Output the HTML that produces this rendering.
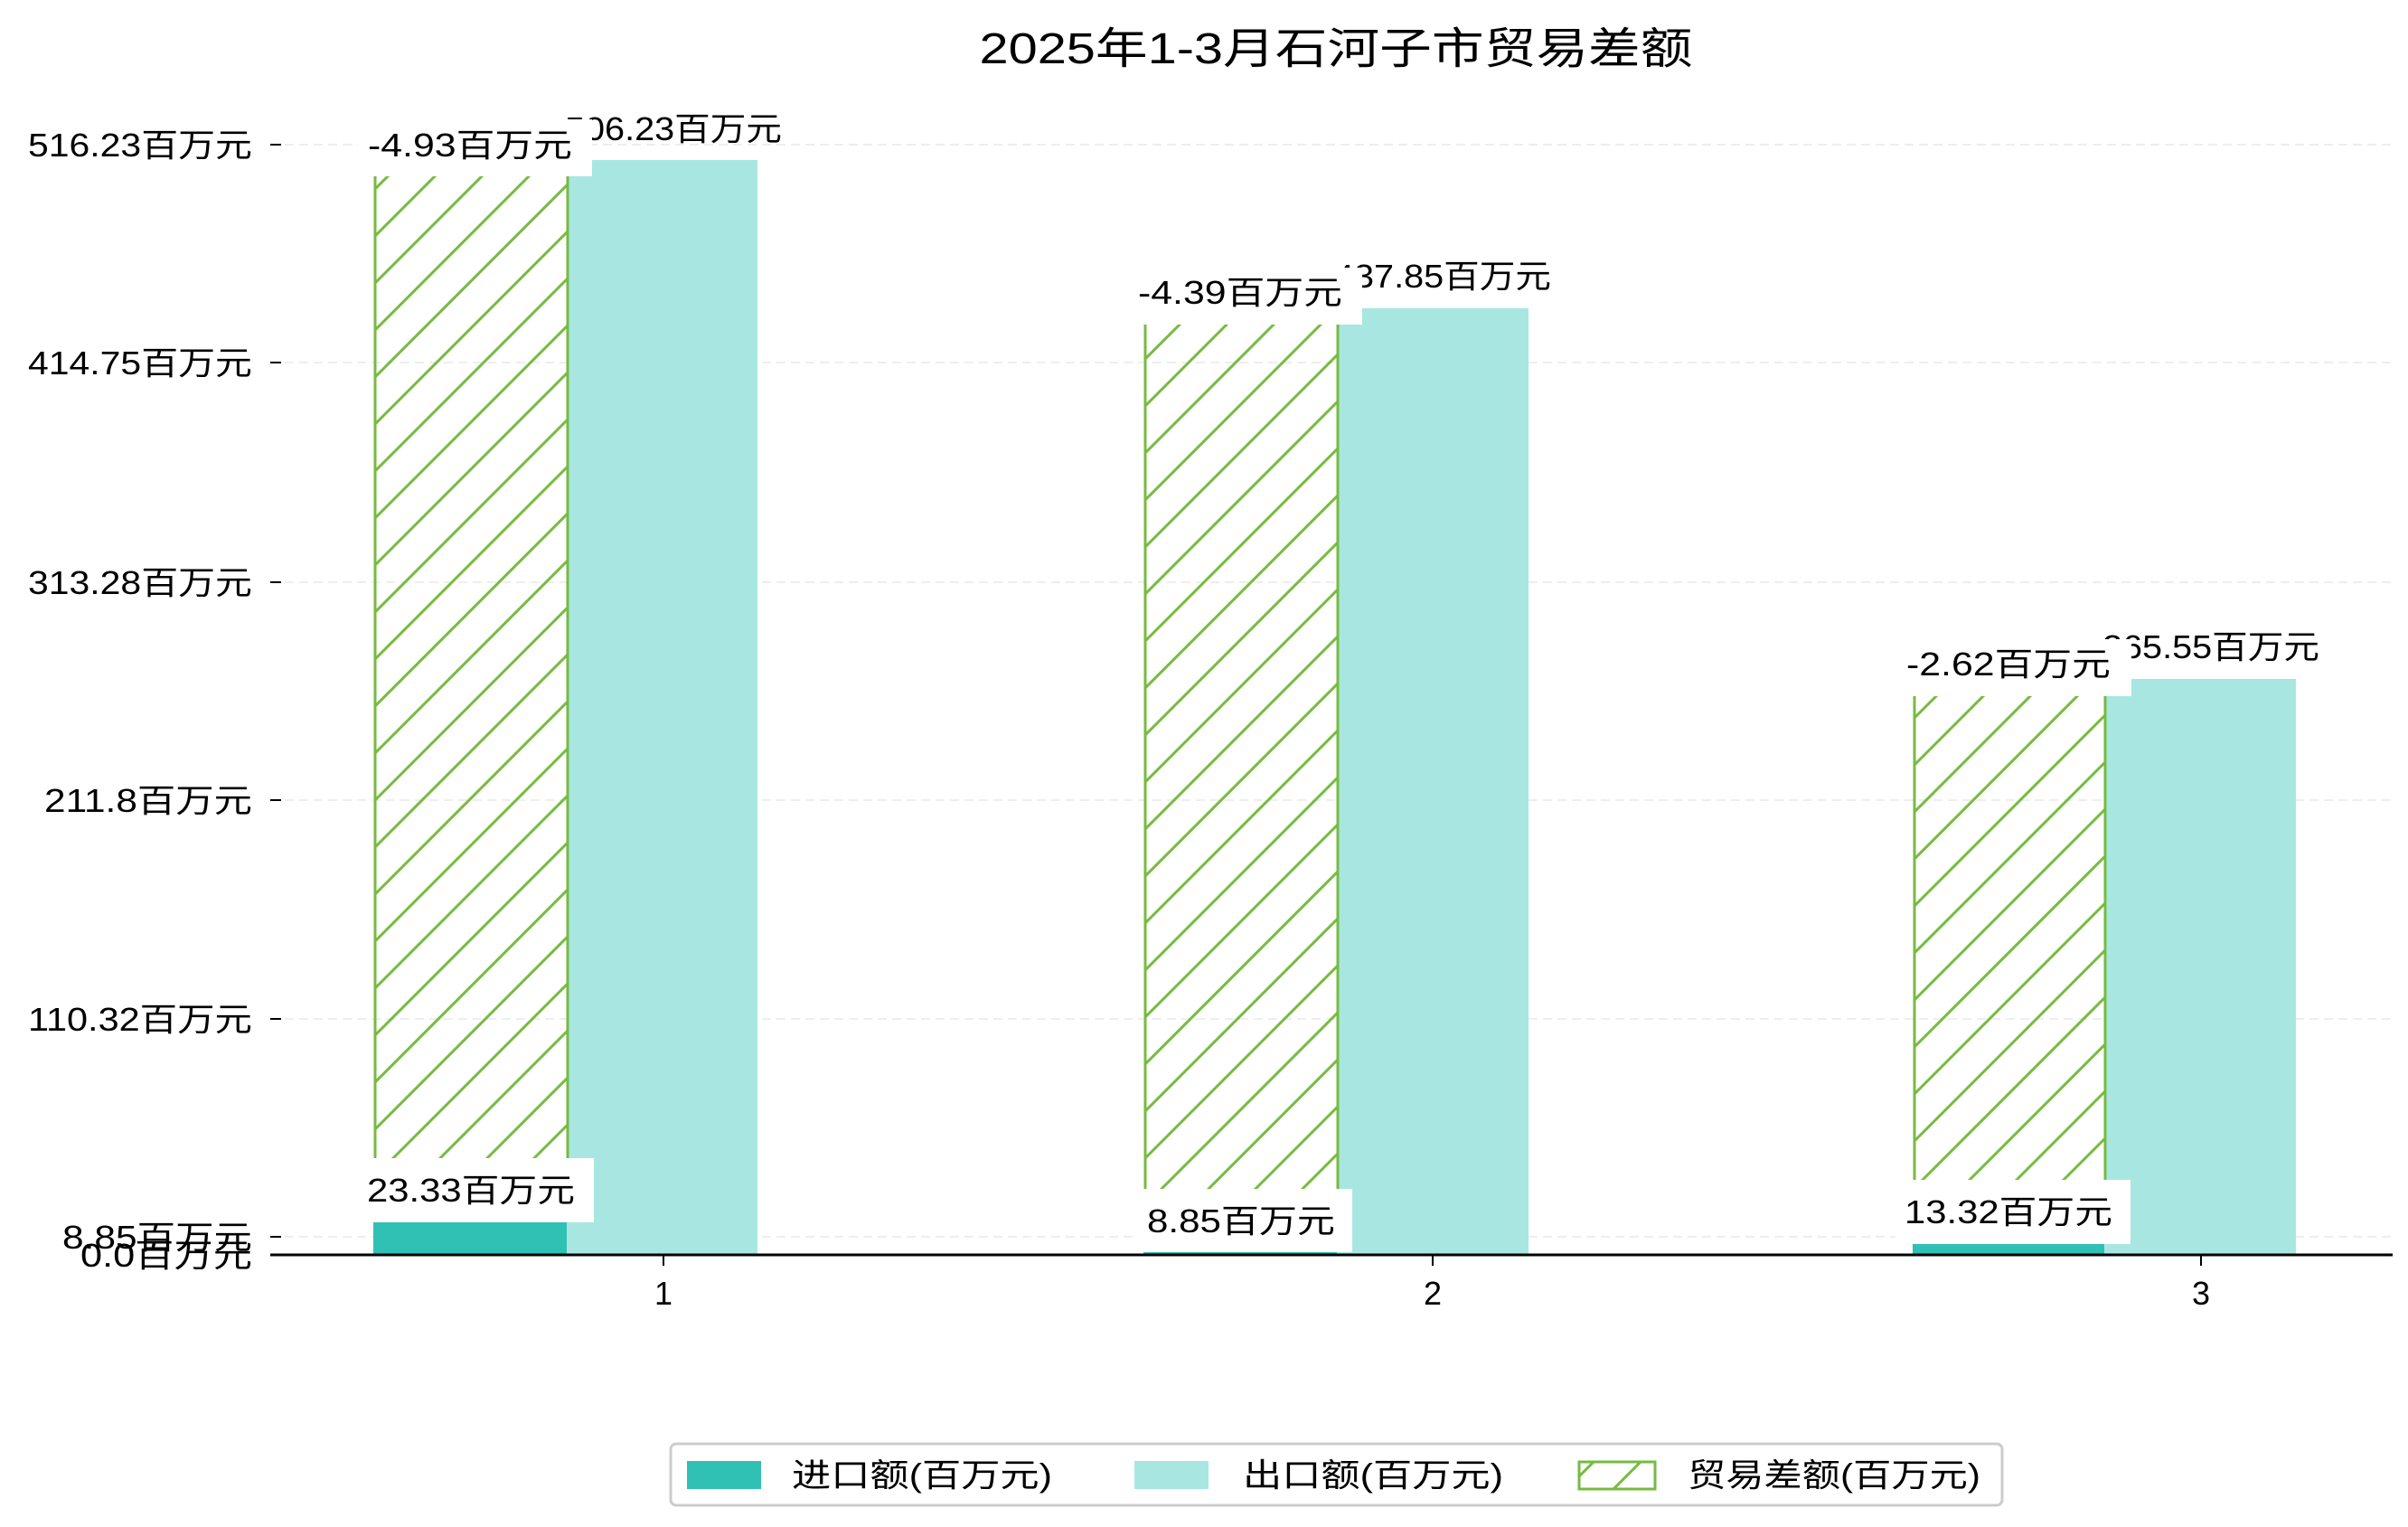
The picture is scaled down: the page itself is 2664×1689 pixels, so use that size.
<!DOCTYPE html>
<html><head><meta charset="utf-8"><style>html,body{margin:0;padding:0;background:#fff}svg{display:block}text{font-family:"Liberation Sans","Noto Sans CJK SC",sans-serif;fill:#000}</style></head>
<body>
<svg width="2664" height="1689" viewBox="0 0 2664 1689" xmlns="http://www.w3.org/2000/svg">
<defs>
<pattern id="h" patternUnits="userSpaceOnUse" width="52" height="52">
<line x1="-2" y1="54" x2="54" y2="-2" stroke="#77bb41" stroke-width="3"/>
<line x1="-28" y1="28" x2="28" y2="-28" stroke="#77bb41" stroke-width="3"/>
<line x1="24" y1="80" x2="80" y2="24" stroke="#77bb41" stroke-width="3"/>
</pattern>
</defs>
<text x="1478" y="70" font-size="48" text-anchor="middle" textLength="789" lengthAdjust="spacingAndGlyphs">2025年1-3月石河子市贸易差额</text>
<g stroke="#eeeeee" stroke-width="2" stroke-dasharray="10,6">
<line x1="299" y1="160" x2="2647" y2="160"/><line x1="299" y1="401" x2="2647" y2="401"/>
<line x1="299" y1="644" x2="2647" y2="644"/><line x1="299" y1="885" x2="2647" y2="885"/>
<line x1="299" y1="1127" x2="2647" y2="1127"/><line x1="299" y1="1368" x2="2647" y2="1368"/>
</g>
<g font-size="36" text-anchor="end">
<text x="279" y="173" textLength="248" lengthAdjust="spacingAndGlyphs">516.23百万元</text>
<text x="279" y="414" textLength="248" lengthAdjust="spacingAndGlyphs">414.75百万元</text>
<text x="279" y="657" textLength="248" lengthAdjust="spacingAndGlyphs">313.28百万元</text>
<text x="279" y="898" textLength="230" lengthAdjust="spacingAndGlyphs">211.8百万元</text>
<text x="279" y="1140" textLength="248" lengthAdjust="spacingAndGlyphs">110.32百万元</text>
<text x="279" y="1381" textLength="210" lengthAdjust="spacingAndGlyphs">8.85百万元</text>
<text x="279" y="1401" textLength="190" lengthAdjust="spacingAndGlyphs">0.0百万元</text>
</g>
<g stroke="#000" stroke-width="2">
<line x1="299" y1="160" x2="311" y2="160"/><line x1="299" y1="401" x2="311" y2="401"/>
<line x1="299" y1="644" x2="311" y2="644"/><line x1="299" y1="885" x2="311" y2="885"/>
<line x1="299" y1="1127" x2="311" y2="1127"/><line x1="299" y1="1368" x2="311" y2="1368"/>
<line x1="734" y1="1388" x2="734" y2="1400"/><line x1="1585" y1="1388" x2="1585" y2="1400"/><line x1="2435" y1="1388" x2="2435" y2="1400"/>
</g>
<rect x="627" y="177" width="211" height="1211" fill="#a8e7e1"/>
<rect x="1479" y="341" width="212" height="1047" fill="#a8e7e1"/>
<rect x="2328" y="751" width="212" height="637" fill="#a8e7e1"/>
<rect x="413" y="1352" width="214" height="36" fill="#30c0b4"/>
<rect x="1265" y="1384" width="214" height="4" fill="#30c0b4"/>
<rect x="2116" y="1376" width="212" height="12" fill="#30c0b4"/>
<g stroke="#77bb41" stroke-width="3">
<rect x="414" y="195" width="213" height="1157" fill="url(#h)" stroke="none"/>
<line x1="415" y1="195" x2="415" y2="1352"/><line x1="628" y1="195" x2="628" y2="1352"/>
<rect x="1266" y="359" width="213" height="1025" fill="url(#h)" stroke="none"/>
<line x1="1267" y1="359" x2="1267" y2="1384"/><line x1="1480" y1="359" x2="1480" y2="1384"/>
<rect x="2117" y="770" width="211" height="606" fill="url(#h)" stroke="none"/>
<line x1="2118" y1="770" x2="2118" y2="1376"/><line x1="2329" y1="770" x2="2329" y2="1376"/>
</g>
<g font-size="36" text-anchor="middle">
<text x="745" y="155" textLength="240" lengthAdjust="spacingAndGlyphs">506.23百万元</text>
<text x="1596" y="318" textLength="240" lengthAdjust="spacingAndGlyphs">437.85百万元</text>
<text x="2446" y="728" textLength="240" lengthAdjust="spacingAndGlyphs">265.55百万元</text>
</g>
<rect x="396" y="132" width="259" height="63" fill="#fff"/>
<rect x="1248" y="296" width="259" height="63" fill="#fff"/>
<rect x="2099" y="707" width="259" height="63" fill="#fff"/>
<g font-size="36" text-anchor="middle">
<text x="520" y="173" textLength="226" lengthAdjust="spacingAndGlyphs">-4.93百万元</text>
<text x="1372" y="336" textLength="226" lengthAdjust="spacingAndGlyphs">-4.39百万元</text>
<text x="2222" y="747" textLength="226" lengthAdjust="spacingAndGlyphs">-2.62百万元</text>
</g>
<rect x="396" y="1281" width="261" height="71" fill="#fff"/>
<rect x="1257" y="1315" width="239" height="70" fill="#fff"/>
<rect x="2097" y="1305" width="260" height="71" fill="#fff"/>
<g font-size="36" text-anchor="middle">
<text x="521" y="1329" textLength="230" lengthAdjust="spacingAndGlyphs">23.33百万元</text>
<text x="1373" y="1363" textLength="208" lengthAdjust="spacingAndGlyphs">8.85百万元</text>
<text x="2222" y="1353" textLength="230" lengthAdjust="spacingAndGlyphs">13.32百万元</text>
</g>
<line x1="299" y1="1388" x2="2647" y2="1388" stroke="#000" stroke-width="3"/>
<g font-size="36" text-anchor="middle">
<text x="734" y="1443">1</text><text x="1585" y="1443">2</text><text x="2435" y="1443">3</text>
</g>
<rect x="742" y="1597" width="1473" height="68" rx="6" fill="#fff" stroke="#cccccc" stroke-width="3"/>
<rect x="760" y="1616" width="82" height="31" fill="#30c0b4"/>
<rect x="1255" y="1616" width="82" height="31" fill="#a8e7e1"/>
<rect x="1747" y="1617" width="84" height="30" fill="url(#h)" stroke="#77bb41" stroke-width="3"/>
<g font-size="36">
<text x="876" y="1644" textLength="288" lengthAdjust="spacingAndGlyphs">进口额(百万元)</text>
<text x="1375" y="1644" textLength="288" lengthAdjust="spacingAndGlyphs">出口额(百万元)</text>
<text x="1867" y="1644" textLength="324" lengthAdjust="spacingAndGlyphs">贸易差额(百万元)</text>
</g>
</svg>
</body></html>
